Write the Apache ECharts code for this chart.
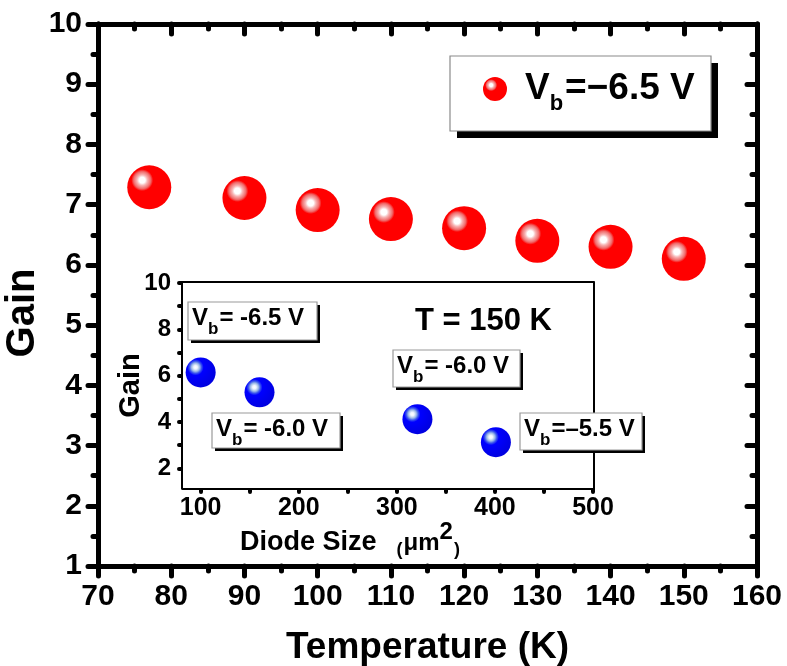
<!DOCTYPE html>
<html>
<head>
<meta charset="utf-8">
<script src="https://cdn.jsdelivr.net/npm/echarts@6/dist/echarts.min.js"></script>
<style>
  html, body { margin: 0; padding: 0; background: #fff; }
  #chart { width: 787px; height: 666px; }
</style>
</head>
<body>
<div id="chart"></div>
<script>
// gain vs temperature (main) and gain vs diode size at 150 K (inset)
var temperature = [77, 90, 100, 110, 120, 130, 140, 150];
var gain = [7.29, 7.11, 6.91, 6.76, 6.61, 6.40, 6.30, 6.10];
var diodeSize = [100, 160, 321, 401];
var insetGain = [6.14, 5.28, 4.12, 3.13];
var biasTexts = ['= -6.5 V', '= -6.0 V', '= -6.0 V', '=\u20135.5 V'];
var insetXTicks = [100, 200, 300, 400, 500];
var insetXMinor = [100, 150, 200, 250, 300, 350, 400, 450, 500];
var insetYTicks = [2, 4, 6, 8, 10];
var insetYMinor = [2, 3, 4, 5, 6, 7, 8, 9, 10];

var FONT = "'Liberation Sans', Arial, sans-serif";

var mainPoints = temperature.map(function (t, i) { return [t, gain[i]]; });
var insetPoints = diodeSize.map(function (d, i) { return [d, insetGain[i]]; });

function redBall() {
    return new echarts.graphic.RadialGradient(0.34, 0.34, 0.75, [
        { offset: 0, color: '#ffffff' },
        { offset: 0.09, color: '#ffffff' },
        { offset: 0.16, color: '#f7b4b4' },
        { offset: 0.26, color: '#f06a6a' },
        { offset: 0.33, color: '#ff0000' },
        { offset: 1, color: '#ff0000' }
    ]);
}
function blueBall() {
    return new echarts.graphic.RadialGradient(0.33, 0.33, 0.75, [
        { offset: 0, color: '#ffffff' },
        { offset: 0.08, color: '#eef4ff' },
        { offset: 0.18, color: '#9dbbe6' },
        { offset: 0.27, color: '#3a55ee' },
        { offset: 0.36, color: '#0000ff' },
        { offset: 1, color: '#0000dd' }
    ]);
}

// lay text pieces one after another on a common baseline
var measureCtx = document.createElement('canvas').getContext('2d');
function textRun(x, base, parts) {
    var out = [];
    var cx = x;
    parts.forEach(function (p) {
        var font = (p.weight || 'bold') + ' ' + p.size + 'px ' + FONT;
        measureCtx.font = font;
        out.push({
            type: 'text',
            x: cx,
            y: base + (p.dy || 0) - 0.347 * p.size,
            z: 20,
            style: { text: p.t, font: font, fill: '#000', align: 'left', verticalAlign: 'middle' }
        });
        cx += measureCtx.measureText(p.t).width + (p.gap || 0);
    });
    return out;
}

// framed box with a solid black drop shadow
function shadowBox(x, y, w, h, off, stroke) {
    return [
        { type: 'rect', z: 14, shape: { x: x + off, y: y + off, width: w, height: h }, style: { fill: '#000' } },
        { type: 'rect', z: 15, shape: { x: x, y: y, width: w, height: h }, style: { fill: '#fff', stroke: stroke, lineWidth: 1.2 } }
    ];
}

// annotation boxes in the inset
var boxes = [
    { x: 188, y: 302, w: 129, h: 38 },
    { x: 212, y: 413, w: 128, h: 35 },
    { x: 393, y: 350, w: 127, h: 37 },
    { x: 520, y: 413, w: 122, h: 37 }
];

var graphics = [];
// legend
graphics = graphics.concat(shadowBox(450, 56, 261, 75, 7, '#8a8a8a'));
graphics.push({
    type: 'circle', z: 16,
    shape: { cx: 495, cy: 89, r: 12 },
    style: { fill: redBall() }
});
graphics = graphics.concat(textRun(525, 102, [
    { t: 'V', size: 37 }, { t: 'b', size: 22, dy: 10, gap: 2 }, { t: '=\u22126.5 V', size: 37 }
]));

boxes.forEach(function (b, i) {
    graphics = graphics.concat(shadowBox(b.x, b.y, b.w, b.h, 3, '#9a9a9a'));
    graphics = graphics.concat(textRun(b.x + 4, b.y + 25, [
        { t: 'V', size: 24 }, { t: 'b', size: 17, dy: 8, gap: 1 }, { t: biasTexts[i], size: 24 }
    ]));
});

graphics = graphics.concat(textRun(415, 332, [{ t: 'T = 150 K', size: 31 }]));
graphics = graphics.concat(textRun(240, 552, [
    { t: 'Diode Size', size: 27, gap: 20 },
    { t: '(', size: 18, dy: 4, gap: 1 },
    { t: '\u03bcm', size: 24 },
    { t: '2', size: 24, dy: -11, gap: 1 },
    { t: ')', size: 18, dy: 4 }
]));

var mainLine = { lineStyle: { color: '#000', width: 5 } };
var insetLine = { lineStyle: { color: '#000', width: 4 } };

var myChart = echarts.init(document.getElementById('chart'));
var option = {
    backgroundColor: '#fff',
    animation: false,
    grid: [
        { left: 98, top: 24, right: 30, bottom: 100, outerBoundsMode: 'none' },
        { left: 183, top: 283, right: 194, bottom: 178, outerBoundsMode: 'none', show: true, backgroundColor: '#fff', borderWidth: 0, z: 5 }
    ],
    xAxis: [
        {
            gridIndex: 0, type: 'value', min: 70, max: 160, interval: 10,
            axisLine: mainLine,
            axisTick: { length: 10, lineStyle: { color: '#000', width: 5, cap: 'round' } },
            minorTick: { show: true, splitNumber: 2, length: 5, lineStyle: { color: '#000', width: 5, cap: 'round' } },
            splitLine: { show: false },
            axisLabel: { color: '#000', fontFamily: FONT, fontWeight: 'bold', fontSize: 30, margin: 16 },
            name: 'Temperature (K)', nameLocation: 'middle', nameGap: 63,
            nameTextStyle: { color: '#000', fontFamily: FONT, fontWeight: 'bold', fontSize: 37 }
        },
        {
            gridIndex: 0, type: 'value', position: 'top', min: 70, max: 160, interval: 10,
            axisLine: mainLine,
            axisTick: { inside: true, length: 10, lineStyle: { color: '#000', width: 5, cap: 'round' } },
            minorTick: { show: true, splitNumber: 2, length: 5, lineStyle: { color: '#000', width: 5, cap: 'round' } },
            splitLine: { show: false },
            axisLabel: { show: false }
        },
        {
            gridIndex: 1, type: 'value', min: 82, max: 500,
            axisLine: insetLine,
            axisTick: { customValues: insetXMinor, length: 4, lineStyle: { color: '#000', width: 4, cap: 'round' } },
            splitLine: { show: false },
            axisLabel: { customValues: insetXTicks, color: '#000', fontFamily: FONT, fontWeight: 'bold', fontSize: 25, margin: 8 }
        },
        {
            gridIndex: 1, type: 'value', position: 'top', min: 82, max: 500,
            axisLine: insetLine,
            axisTick: { inside: true, customValues: insetXMinor, length: 4, lineStyle: { color: '#000', width: 4, cap: 'round' } },
            splitLine: { show: false },
            axisLabel: { show: false }
        }
    ],
    yAxis: [
        {
            gridIndex: 0, type: 'value', min: 1, max: 10, interval: 1,
            axisLine: mainLine,
            axisTick: { length: 10, lineStyle: { color: '#000', width: 5, cap: 'round' } },
            minorTick: { show: true, splitNumber: 2, length: 5, lineStyle: { color: '#000', width: 5, cap: 'round' } },
            splitLine: { show: false },
            axisLabel: { color: '#000', fontFamily: FONT, fontWeight: 'bold', fontSize: 30, margin: 16 },
            name: 'Gain', nameLocation: 'middle', nameGap: 55, nameMoveOverlap: false,
            nameTextStyle: { color: '#000', fontFamily: FONT, fontWeight: 'bold', fontSize: 40, padding: [0, 36, 0, 0] }
        },
        {
            gridIndex: 0, type: 'value', position: 'right', min: 1, max: 10, interval: 1,
            axisLine: mainLine,
            axisTick: { inside: true, length: 10, lineStyle: { color: '#000', width: 5, cap: 'round' } },
            minorTick: { show: true, splitNumber: 2, length: 5, lineStyle: { color: '#000', width: 5, cap: 'round' } },
            splitLine: { show: false },
            axisLabel: { show: false }
        },
        {
            gridIndex: 1, type: 'value', min: 1.15, max: 10,
            axisLine: insetLine,
            axisTick: { customValues: insetYMinor, length: 4, lineStyle: { color: '#000', width: 4, cap: 'round' } },
            splitLine: { show: false },
            axisLabel: { customValues: insetYTicks, color: '#000', fontFamily: FONT, fontWeight: 'bold', fontSize: 24, margin: 12 },
            name: 'Gain', nameLocation: 'middle', nameGap: 38, nameMoveOverlap: false,
            nameTextStyle: { color: '#000', fontFamily: FONT, fontWeight: 'bold', fontSize: 29 }
        },
        {
            gridIndex: 1, type: 'value', position: 'right', min: 1.15, max: 10,
            axisLine: insetLine,
            axisTick: { inside: true, customValues: insetYMinor, length: 4, lineStyle: { color: '#000', width: 4, cap: 'round' } },
            splitLine: { show: false },
            axisLabel: { show: false }
        }
    ],
    series: [
        {
            name: 'Vb = -6.5 V',
            type: 'scatter',
            xAxisIndex: 0, yAxisIndex: 0,
            symbolSize: 44,
            itemStyle: { color: redBall(), opacity: 1 },
            data: mainPoints
        },
        {
            name: 'T = 150 K',
            type: 'scatter',
            xAxisIndex: 2, yAxisIndex: 2,
            symbolSize: 30,
            z: 10,
            itemStyle: { color: blueBall(), opacity: 1 },
            data: insetPoints
        }
    ],
    graphic: graphics
};
myChart.setOption(option);
</script>
</body>
</html>
